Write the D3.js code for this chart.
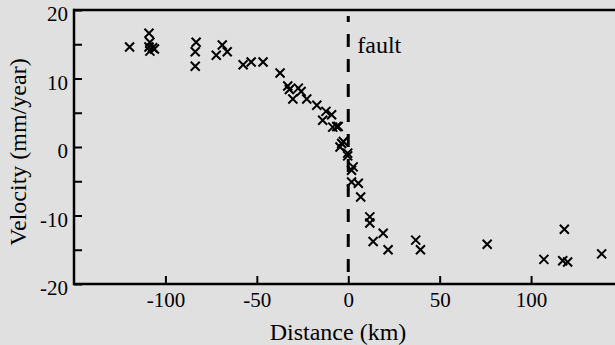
<!DOCTYPE html>
<html><head><meta charset="utf-8">
<script src="https://cdn.jsdelivr.net/npm/d3@7"></script>
<style>body{margin:0;background:#e0e0e0;}svg{display:block;}</style>
</head><body>
<svg id="chart" width="615" height="345"></svg>
<script>
const distance = [-119.6,-109,-108.5,-109,-108.5,-107,-106,-83.2,-83.7,-83.7,-72.2,-68.9,-66.2,-57.5,-53.1,-46.6,-37.3,-33.1,-32.2,-30.3,-27.3,-25.8,-22.7,-17.2,-12.2,-14,-9.1,-8.5,-6.3,-5.5,-4.5,-2.7,-3.6,-0.3,-0.3,2.7,1.8,5.5,1.8,6.8,11.8,11.8,19.1,13.6,21.8,36.9,39.5,76,107,118.2,117.3,120,138.6];
const velocity = [14.6,16.6,15.3,14.6,14.0,14.5,14.3,15.3,13.9,11.8,13.4,14.9,13.9,12.0,12.4,12.4,10.8,8.9,8.4,7.0,8.6,8.1,7.0,6.1,5.2,3.9,4.7,2.9,3.0,3.0,0.0,0.8,0.5,-1.3,-0.9,-2.9,-3.4,-5.3,-5.1,-7.3,-10.2,-11.1,-12.6,-13.8,-15.0,-13.6,-15.0,-14.2,-16.4,-12.0,-16.6,-16.8,-15.6];
const xTicks = [-100,-50,0,50,100];
const yTicks = [-20,-10,0,10,20];
const yMinorTicks = [-15,-5,5,15];

(function(){
const svg = d3.select("#chart");
const mLeft = 74, mTop = 10, mBottom = 284, mRight = 622.5;
const x = d3.scaleLinear().domain([-150,150]).range([mLeft,mRight]);
const y = d3.scaleLinear().domain([-20,20]).range([mBottom,mTop]);
const font = "'Liberation Serif','Times New Roman',serif";

svg.append("rect").attr("width",615).attr("height",345).attr("fill","#e0e0e0");

svg.append("line").attr("x1",mLeft).attr("x2",615).attr("y1",mTop).attr("y2",mTop).attr("stroke","#000").attr("stroke-width",2.5);
svg.append("line").attr("x1",mLeft).attr("x2",615).attr("y1",mBottom).attr("y2",mBottom).attr("stroke","#000").attr("stroke-width",2.5);
svg.append("line").attr("x1",mLeft).attr("x2",mLeft).attr("y1",mTop-1.2).attr("y2",mBottom+1.2).attr("stroke","#000").attr("stroke-width",2.5);

const xAxis = d3.axisBottom(x).tickValues(xTicks).tickSizeInner(-8).tickSizeOuter(0).tickPadding(8).tickFormat(d3.format("d"));
const gx = svg.append("g").attr("transform",`translate(0,${mBottom})`).call(xAxis);
gx.select(".domain").remove();
gx.selectAll(".tick line").attr("stroke","#000").attr("stroke-width",2);
gx.selectAll("text").attr("font-family",font).attr("font-size",21).attr("fill","#000").text(d=>String(d));

const yAxis = d3.axisLeft(y).tickValues(yTicks).tickSizeInner(-8).tickSizeOuter(0).tickPadding(6);
const gy = svg.append("g").attr("transform",`translate(${mLeft},0)`).call(yAxis);
gy.select(".domain").remove();
gy.selectAll(".tick line").attr("stroke","#000").attr("stroke-width",2);
gy.selectAll("text").attr("font-family",font).attr("font-size",21).attr("fill","#000").attr("dy","0.5em").text(d=>String(d));
const yMinor = d3.axisLeft(y).tickValues(yMinorTicks).tickSizeInner(-8).tickSizeOuter(0).tickFormat("");
const gy2 = svg.append("g").attr("transform",`translate(${mLeft},0)`).call(yMinor);
gy2.select(".domain").remove();
gy2.selectAll(".tick line").attr("stroke","#000").attr("stroke-width",2);

svg.append("line").attr("x1",x(0)).attr("x2",x(0)).attr("y1",16).attr("y2",mBottom)
  .attr("stroke","#000").attr("stroke-width",3).attr("stroke-dasharray","13,12").attr("stroke-dashoffset",7);
svg.append("text").attr("x",x(0)+9).attr("y",53).attr("font-family",font).attr("font-size",24).attr("fill","#000").text("fault");

const s = 4.5;
const pts = svg.append("g");
distance.forEach((d,i)=>{
  const cx = x(d), cy = y(velocity[i]);
  pts.append("path").attr("d",`M${cx-s},${cy-s}L${cx+s},${cy+s}M${cx-s},${cy+s}L${cx+s},${cy-s}`)
    .attr("stroke","#000").attr("stroke-width",2).attr("fill","none");
});

svg.append("text").attr("x",338).attr("y",340).attr("text-anchor","middle")
  .attr("font-family",font).attr("font-size",24).attr("fill","#000").text("Distance (km)");
svg.append("text").attr("transform",`translate(26,152) rotate(-90)`).attr("text-anchor","middle")
  .attr("font-family",font).attr("font-size",24).attr("fill","#000").text("Velocity (mm/year)");
})();
</script>
</body></html>
